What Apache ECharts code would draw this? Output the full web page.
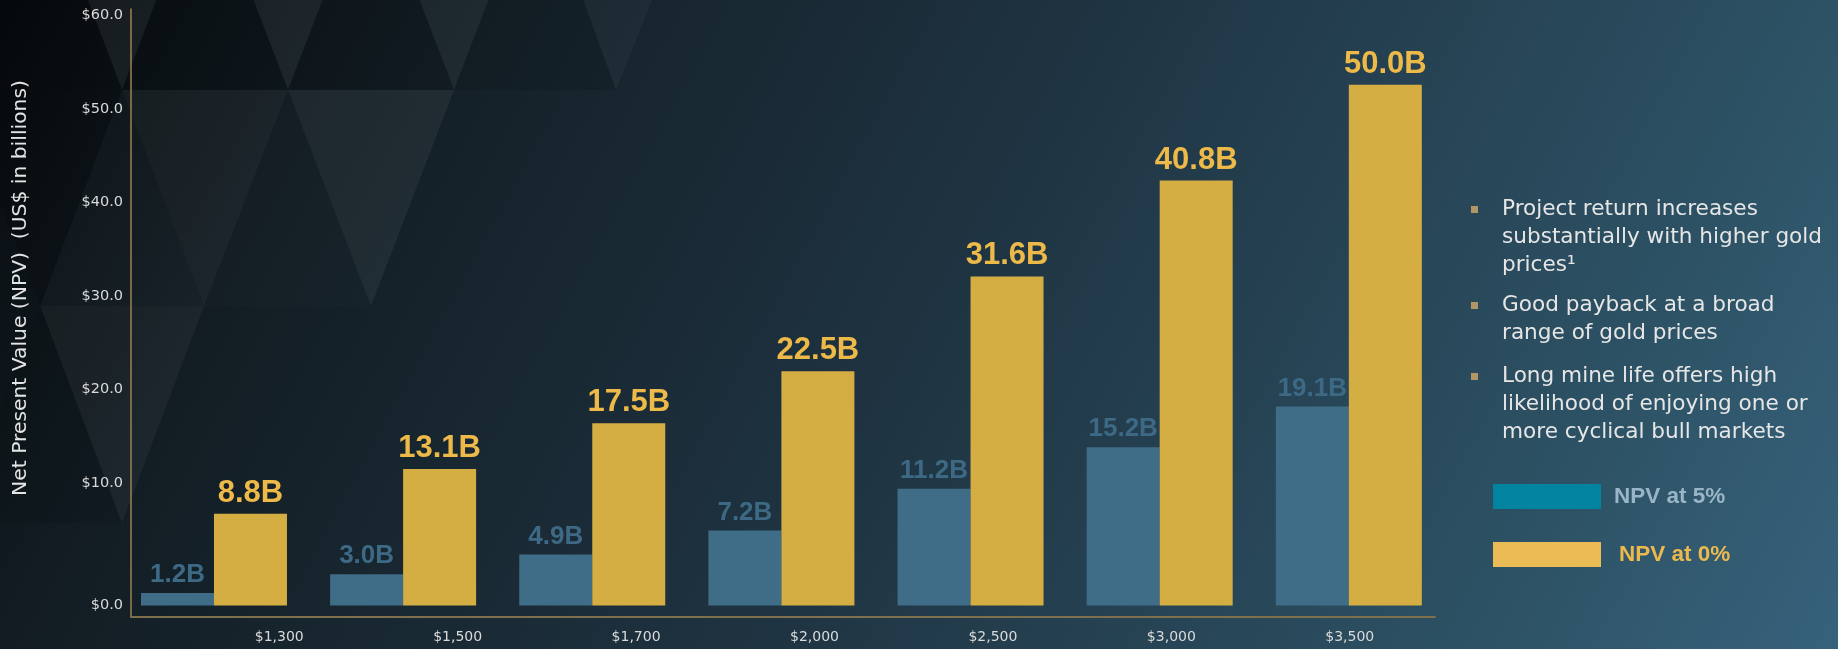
<!DOCTYPE html>
<html>
<head>
<meta charset="utf-8">
<script src="https://cdn.jsdelivr.net/npm/echarts@6/dist/echarts.min.js"></script>
<style>
html,body{margin:0;padding:0;overflow:hidden;background:#0b1013;}
#chart{width:1838px;height:649px;}
</style>
</head>
<body>
<div id="chart"></div>
<script>
// ---- data ----
const categories = ['$1,300', '$1,500', '$1,700', '$2,000', '$2,500', '$3,000', '$3,500'];
const npvAt5 = [1.2, 3.0, 4.9, 7.2, 11.2, 15.2, 19.1];
const npvAt0 = [8.8, 13.1, 17.5, 22.5, 31.6, 40.8, 50.0];
const yTickValues = [0, 10, 20, 30, 40, 50, 60];
const seriesNames = ['NPV at 5%', 'NPV at 0%'];
const yAxisTitle = 'Net Present Value (NPV)  (US$ in billions)';
const bullets = [
  'Project return increases\nsubstantially with higher gold\nprices\u00b9',
  'Good payback at a broad\nrange of gold prices',
  'Long mine life offers high\nlikelihood of enjoying one or\nmore cyclical bull markets'
];

// ---- styles ----
const BLUE = '#3f6d87', GOLD = '#d4ae43';
const BLUE_LABEL = '#3d6985', GOLD_LABEL = '#edb948';
const LIGHT = "'DejaVu Sans', sans-serif";
const BOLD = "'Liberation Sans', Arial, sans-serif";
const BAR_MAX = 56.8;
const fmtMoney = v => '$' + v.toFixed(1);

const chart = echarts.init(document.getElementById('chart'), null, {renderer: 'canvas'});

function tri(points, fill) {
  return {type: 'polygon', z: -10, silent: true, shape: {points: points}, style: {fill: fill}};
}
const W = 'rgba(255,255,255,', K = 'rgba(0,0,0,';
const pattern = [
  // top band
  tri([[40,-127],[205,-127],[122,90]], W+'0.05)'),
  tri([[205,-127],[371,-127],[288,90]], W+'0.05)'),
  tri([[371,-127],[537,-127],[454,90]], W+'0.045)'),
  tri([[537,-127],[703,-127],[616,90]], W+'0.035)'),
  tri([[-44,90],[40,-127],[122,90]], K+'0.2)'),
  tri([[122,90],[205,-127],[288,90]], K+'0.18)'),
  tri([[288,90],[371,-127],[454,90]], K+'0.15)'),
  tri([[454,90],[537,-127],[616,90]], K+'0.1)'),
  // second band
  tri([[-44,90],[122,90],[40,306]], K+'0.15)'),
  tri([[122,90],[40,306],[204,306]], W+'0.025)'),
  tri([[122,90],[288,90],[204,306]], W+'0.045)'),
  tri([[288,90],[204,306],[371,306]], W+'0.012)'),
  tri([[288,90],[454,90],[371,306]], W+'0.055)'),
  // third band
  tri([[40,306],[-44,523],[122,523]], K+'0.08)'),
  tri([[40,306],[204,306],[122,523]], W+'0.045)')
];

const bulletTops = [196, 292, 363];
const bulletGraphics = [];
bullets.forEach((t, i) => {
  bulletGraphics.push({type: 'rect', silent: true, shape: {x: 1471, y: bulletTops[i] + 10, width: 7, height: 7}, style: {fill: '#b39666'}});
  bulletGraphics.push({type: 'text', silent: true, x: 1502, y: bulletTops[i],
    style: {text: t, fill: '#e6e6e6', font: 'normal 21.6px ' + LIGHT, lineHeight: 27.7, textAlign: 'left', textVerticalAlign: 'top'}});
});

const tickLabelStyle = {color: '#dadada', fontFamily: LIGHT, fontSize: 14.5};

const option = {
  backgroundColor: {
    type: 'linear', x: 0, y: 0, x2: 1838, y2: 1000, global: true,
    colorStops: [
      {offset: 0, color: '#070b0e'},
      {offset: 0.15, color: '#121c22'},
      {offset: 0.45, color: '#1e3240'},
      {offset: 0.77, color: '#2d5265'},
      {offset: 0.92, color: '#37627c'},
      {offset: 1, color: '#3a6883'}
    ]
  },
  animation: false,
  graphic: pattern.concat(bulletGraphics).concat([
    {type: 'text', silent: true, x: 21, y: 288, rotation: Math.PI / 2,
      style: {text: yAxisTitle, fill: '#e4e4e4', font: 'normal 20.3px ' + LIGHT, textAlign: 'center', textVerticalAlign: 'middle'}}
  ]),
  legend: {
    orient: 'vertical', left: 1488, top: 479, itemWidth: 108, itemHeight: 25, itemGap: 33,
    icon: 'rect', selectedMode: false,
    textStyle: {fontFamily: BOLD, fontWeight: 'bold', fontSize: 22.5},
    data: [
      {name: seriesNames[0], itemStyle: {color: '#00849f'}, textStyle: {color: '#9ab5c6', padding: [0, 0, 0, 8]}},
      {name: seriesNames[1], itemStyle: {color: '#ebbb55'}, textStyle: {color: '#ebb94e', padding: [0, 0, 0, 13]}}
    ]
  },
  grid: [
    {left: 119.4, width: 1324, top: 14, height: 591.5},   // bars
    {left: 131, width: 1304, top: 15.6, height: 467.3},   // $10 - $60 labels
    {left: 131, width: 1304, top: 9, height: 608},        // axis frame
    {left: 190, width: 1249, top: 9, height: 608},        // x labels
    {left: 131, width: 1304, top: 14, height: 591.5}      // $0 label at bar baseline
  ],
  xAxis: [
    {gridIndex: 0, type: 'category', data: categories, show: false},
    {gridIndex: 1, type: 'category', data: categories, show: false},
    {gridIndex: 2, type: 'category', data: categories,
      axisLine: {show: true, onZero: false, lineStyle: {color: '#7e6f4d', width: 2}},
      axisTick: {show: false}, axisLabel: {show: false}},
    {gridIndex: 3, type: 'category', data: categories,
      axisLine: {show: false}, axisTick: {show: false},
      axisLabel: {show: true, margin: 13, color: '#dadada', fontFamily: LIGHT, fontSize: 14}},
    {gridIndex: 4, type: 'category', data: categories, show: false}
  ],
  yAxis: [
    {gridIndex: 0, type: 'value', min: 0, max: BAR_MAX, show: false},
    {gridIndex: 1, type: 'value', min: yTickValues[1], max: yTickValues[yTickValues.length - 1], interval: 10,
      axisLine: {show: false}, axisTick: {show: false}, splitLine: {show: false},
      axisLabel: Object.assign({margin: 8, formatter: fmtMoney}, tickLabelStyle)},
    {gridIndex: 2, type: 'value', min: 0, max: 1,
      axisLine: {show: true, lineStyle: {color: '#9a8352', width: 1.5}},
      axisTick: {show: false}, axisLabel: {show: false}, splitLine: {show: false}},
    {gridIndex: 3, type: 'value', show: false},
    {gridIndex: 4, type: 'value', min: 0, max: BAR_MAX, interval: 10,
      axisLine: {show: false}, axisTick: {show: false}, splitLine: {show: false},
      axisLabel: Object.assign({margin: 8, showMaxLabel: false,
        formatter: v => (v === yTickValues[0] ? fmtMoney(v) : '')}, tickLabelStyle)}
  ],
  series: [
    {name: seriesNames[0], type: 'bar', xAxisIndex: 0, yAxisIndex: 0, data: npvAt5,
      barWidth: 73, barGap: '0%', itemStyle: {color: BLUE},
      label: {show: true, position: 'top', distance: 5, color: BLUE_LABEL,
        fontFamily: BOLD, fontWeight: 'bold', fontSize: 26,
        formatter: p => p.value.toFixed(1) + 'B'}},
    {name: seriesNames[1], type: 'bar', xAxisIndex: 0, yAxisIndex: 0, data: npvAt0,
      barWidth: 73, barGap: '0%', itemStyle: {color: GOLD},
      label: {show: true, position: 'top', distance: 5, color: GOLD_LABEL,
        fontFamily: BOLD, fontWeight: 'bold', fontSize: 31,
        formatter: p => p.value.toFixed(1) + 'B'}}
  ]
};
chart.setOption(option);
</script>
</body>
</html>
